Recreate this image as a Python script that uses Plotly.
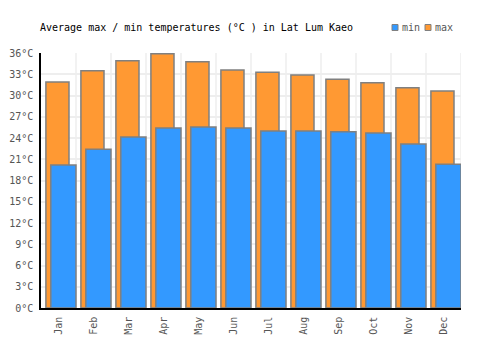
import plotly.graph_objects as go

months = ["Jan", "Feb", "Mar", "Apr", "May", "Jun", "Jul", "Aug", "Sep", "Oct", "Nov", "Dec"]
max_temp = [31.9, 33.5, 34.9, 35.9, 34.75, 33.6, 33.3, 32.9, 32.3, 31.8, 31.1, 30.65]
min_temp = [20.2, 22.4, 24.15, 25.4, 25.55, 25.4, 25.0, 25.0, 24.9, 24.7, 23.15, 20.3]
y_ticks = list(range(0, 37, 3))

FONT = "DejaVu Sans Mono"
ORANGE = "#FF9933"
BLUE = "#3399FF"
EDGE = "#808080"

L, R, T, B = 41, 39, 53, 42
PW, PH = 500 - L - R, 350 - T - B


def px_x(px):
    return (px - L) / PW


def px_y(py):
    return (350 - B - py) / PH


fig = go.Figure()
fig.add_trace(go.Bar(
    x=months, y=max_temp, name="max",
    marker=dict(color=ORANGE, line=dict(color=EDGE, width=1.5)),
    width=0.66, offset=-0.36, showlegend=False,
))
fig.add_trace(go.Bar(
    x=months, y=min_temp, name="min",
    marker=dict(color=BLUE, line=dict(color=EDGE, width=1.5)),
    width=0.72, offset=-0.22, showlegend=False,
))

shapes = []
for i in range(12):
    shapes.append(dict(type="line", xref="x", yref="paper", x0=i + 0.5, x1=i + 0.5, y0=0, y1=1,
                       line=dict(color="#EEEEEE", width=1.5), layer="below"))
# legend squares
legend_items = [("min", BLUE, 392), ("max", ORANGE, 425)]
annotations = []
for label, color, x0 in legend_items:
    shapes.append(dict(type="rect", xref="paper", yref="paper",
                       x0=px_x(x0), x1=px_x(x0 + 6), y0=px_y(30.5), y1=px_y(24.5),
                       fillcolor=color, line=dict(color=EDGE, width=1)))
    annotations.append(dict(text=label, xref="paper", yref="paper", x=px_x(x0 + 8), y=px_y(27.5),
                            xanchor="left", yanchor="middle", showarrow=False,
                            font=dict(family=FONT, size=10, color="#555555")))

fig.update_layout(
    width=500, height=350,
    margin=dict(l=L, r=R, t=T, b=B, autoexpand=False),
    barmode="overlay",
    plot_bgcolor="white", paper_bgcolor="white",
    font=dict(family=FONT, size=10, color="#555555"),
    title=dict(text="Average max / min temperatures (°C ) in Lat Lum Kaeo",
               font=dict(family=FONT, size=10, color="#000000"),
               x=40/500, xanchor="left", xref="container",
               y=1-27/350, yanchor="middle", yref="container"),
    showlegend=False,
    shapes=shapes,
    annotations=annotations,
)
fig.update_xaxes(
    tickangle=-90, showline=True, linecolor="#000000", linewidth=1.5,
    showgrid=False, ticks="", range=[-0.5, 11.5], ticklabelstandoff=3,
    tickfont=dict(family=FONT, size=10, color="#555555"),
)
fig.update_yaxes(
    range=[0, 36], tickvals=y_ticks, ticktext=[f"{v}°C" for v in y_ticks],
    showline=True, linecolor="#000000", linewidth=1.5, ticklabelstandoff=4,
    showgrid=True, gridcolor="#EEEEEE", gridwidth=1.5, zeroline=False,
    tickfont=dict(family=FONT, size=10, color="#555555"),
)

fig.write_html("out.html")
